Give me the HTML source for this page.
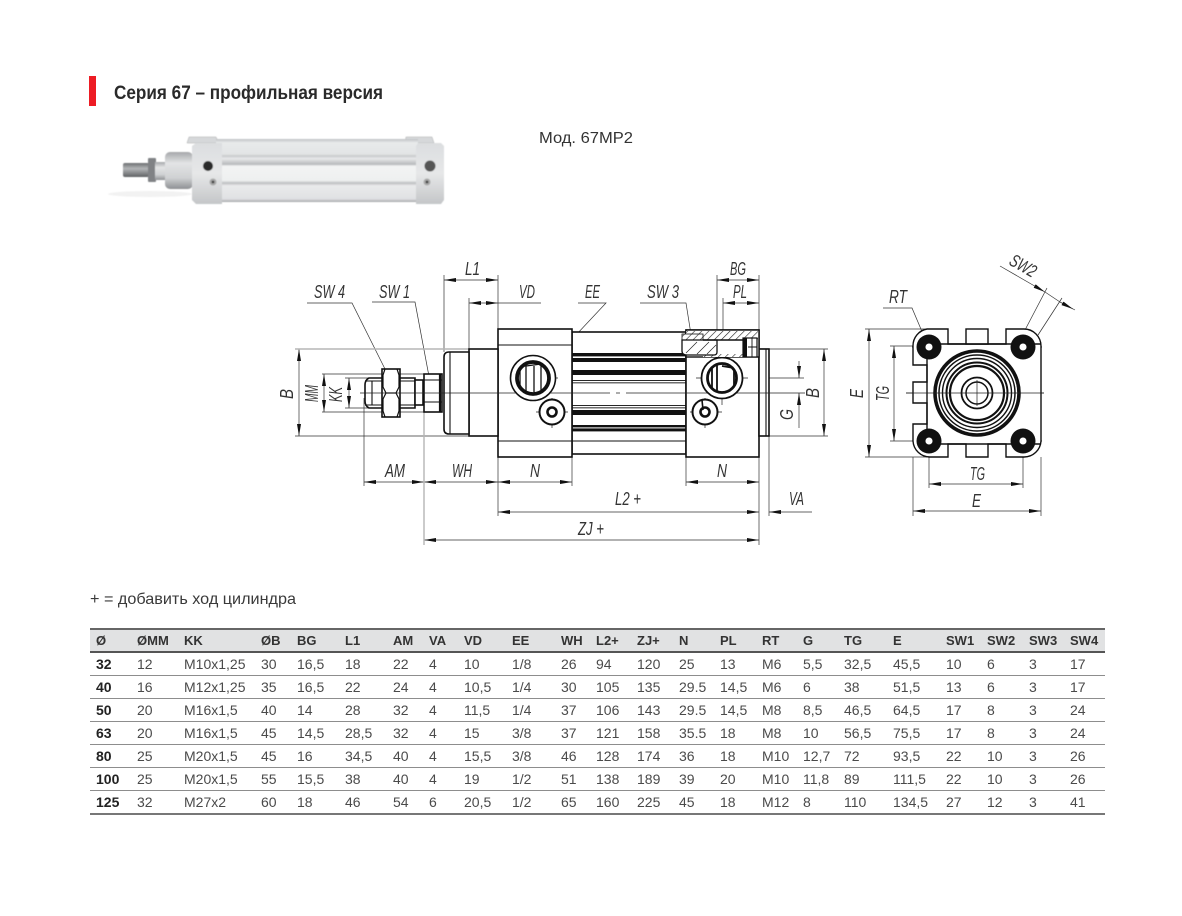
<!DOCTYPE html>
<html lang="ru">
<head>
<meta charset="utf-8">
<style>
html,body{margin:0;padding:0;background:#fff}
body{width:1182px;height:916px;position:relative;overflow:hidden;font-family:"Liberation Sans","Noto Sans CJK SC",sans-serif}
svg{position:absolute;left:0;top:0}
table{position:absolute;left:90px;top:628px;width:1015px;border-collapse:collapse;table-layout:fixed;font-size:14px;color:#4a4a4a;border-top:2px solid #666;border-bottom:2px solid #777}
th,td{padding:0 0 0 6px;text-align:left;white-space:nowrap;border-bottom:1px solid #8d8d8d;overflow:visible}
th{background:#e1e2e3;height:21px;border-bottom:2px solid #555;font-weight:bold;color:#333;font-size:13px}
td{height:22px;line-height:16px}
td:first-child{font-weight:bold;color:#222}
</style>
</head>
<body>
<svg width="1182" height="916" viewBox="0 0 1182 916">
<defs>
<marker id="a" markerUnits="userSpaceOnUse" markerWidth="14" markerHeight="6" refX="12" refY="3" orient="auto-start-reverse"><path d="M0,1 L12,3 L0,5 Z" fill="#111"/></marker>
<linearGradient id="body" x1="0" y1="0" x2="0" y2="1">
<stop offset="0" stop-color="#bfc2c4"/><stop offset=".06" stop-color="#e8eaeb"/><stop offset=".24" stop-color="#e2e4e5"/><stop offset=".27" stop-color="#c8cacc"/><stop offset=".31" stop-color="#e8e9ea"/><stop offset=".4" stop-color="#b8babc"/><stop offset=".43" stop-color="#f3f4f4"/><stop offset=".66" stop-color="#eef0f0"/><stop offset=".7" stop-color="#bcbec0"/><stop offset=".74" stop-color="#e9eaeb"/><stop offset=".95" stop-color="#e0e1e3"/><stop offset="1" stop-color="#a5a7aa"/>
</linearGradient>
<linearGradient id="blk" x1="0" y1="0" x2="0" y2="1"><stop offset="0" stop-color="#dcdee0"/><stop offset=".5" stop-color="#e6e7e8"/><stop offset="1" stop-color="#c4c6c8"/></linearGradient>
<linearGradient id="cyl" x1="0" y1="0" x2="0" y2="1"><stop offset="0" stop-color="#a5a7aa"/><stop offset=".3" stop-color="#e3e4e5"/><stop offset=".7" stop-color="#cfd1d3"/><stop offset="1" stop-color="#8e9093"/></linearGradient>
<linearGradient id="rod" x1="0" y1="0" x2="0" y2="1"><stop offset="0" stop-color="#6d6f71"/><stop offset=".4" stop-color="#b4b6b8"/><stop offset="1" stop-color="#5e6062"/></linearGradient>
<pattern id="h" patternUnits="userSpaceOnUse" width="5" height="5" patternTransform="rotate(-45)"><rect width="5" height="5" fill="#fff"/><line x1="0" y1="0" x2="5" y2="0" stroke="#222" stroke-width="1.2"/></pattern>
<clipPath id="clip1"><circle cx="533" cy="378" r="17"/></clipPath>
<clipPath id="clip2"><circle cx="722" cy="378" r="15.5"/></clipPath>
<filter id="soft" x="-5%" y="-5%" width="110%" height="110%"><feGaussianBlur stdDeviation=".55"/></filter>
</defs>

<!-- header -->
<rect x="89" y="76" width="7" height="30" fill="#ed1c24"/>
<text x="114" y="99" font-size="19" font-weight="bold" fill="#2a2a2a" textLength="269" lengthAdjust="spacingAndGlyphs">Серия 67 – профильная версия</text>
<text x="539" y="143" font-size="16" fill="#333" textLength="94" lengthAdjust="spacingAndGlyphs">Мод. 67MP2</text>
<text x="90" y="604" font-size="16" fill="#3a3a3a" textLength="206" lengthAdjust="spacingAndGlyphs">+ = добавить ход цилиндра</text>

<!-- photo -->
<g filter="url(#soft)">
<ellipse cx="150" cy="194" rx="42" ry="3" fill="#f2f2f2"/>
<path d="M187,143 L189,137 L216,137 L219,143 Z" fill="#d6d8da" stroke="#aaa" stroke-width=".5"/>
<path d="M405,143 L406,137 L432,137 L434,143 Z" fill="#d6d8da" stroke="#aaa" stroke-width=".5"/>
<rect x="216" y="139" width="202" height="63" fill="url(#body)"/>
<rect x="123" y="163" width="26" height="14" rx="2" fill="url(#rod)"/>
<rect x="148" y="158" width="8" height="24" rx="1" fill="#808285"/>
<rect x="155" y="162" width="12" height="18" fill="url(#cyl)"/>
<rect x="165" y="152" width="28" height="37" rx="5" fill="url(#cyl)"/>
<path d="M192,146 L196,143 L222,143 L222,204 L196,204 L192,200 Z" fill="url(#blk)"/>
<path d="M416,146 L418,143 L441,143 L444,146 L444,200 L441,204 L416,204 Z" fill="url(#blk)"/>
<circle cx="208" cy="166" r="5" fill="#2a2a2a"/>
<circle cx="430" cy="166" r="5.5" fill="#555"/>
<circle cx="213" cy="182" r="3.5" fill="#a8a8a8"/><circle cx="213" cy="182" r="1.4" fill="#444"/>
<circle cx="427" cy="182" r="3.5" fill="#a8a8a8"/><circle cx="427" cy="182" r="1.4" fill="#444"/>
</g>

<!-- thin lines: extension, leaders, dimensions -->
<g fill="none" stroke="#333" stroke-width=".7">
<path d="M295,436H498M322,374H424M322,412H424M345,378H380M345,408H380"/>
<path d="M364,398V486M498,457V516M572,457V486M686,457V486M759,457V545M769,436V516"/>
<path d="M444,275V352M469,298V349M498,275V329M717,275V358M723,298V405M759,275V330"/>
<path d="M769,349H828M769,436H828M696,378H804"/>
<path d="M307,303H352L385,369M372,302H415L431,387M578,303H606L546,367M640,303H686L703,410"/>
<path d="M883,308H912L926,341"/>
<path d="M865,329H928M865,457H928M890,346H929M890,441H929"/>
<path d="M913,457V516M1041,457V516M929,441V488M1023,441V488"/>
<path d="M1047,288L1025,330M1062,298L1038,335"/>
<g marker-start="url(#a)" marker-end="url(#a)">
<line x1="444" y1="280" x2="498" y2="280"/>
<line x1="469" y1="303" x2="498" y2="303"/>
<line x1="717" y1="280" x2="759" y2="280"/>
<line x1="723" y1="303" x2="759" y2="303"/>
<line x1="299" y1="349" x2="299" y2="436"/>
<line x1="324" y1="374" x2="324" y2="412"/>
<line x1="349" y1="378" x2="349" y2="408"/>
<line x1="364" y1="482" x2="424" y2="482"/>
<line x1="424" y1="482" x2="498" y2="482"/>
<line x1="498" y1="482" x2="572" y2="482"/>
<line x1="686" y1="482" x2="759" y2="482"/>
<line x1="498" y1="512" x2="759" y2="512"/>
<line x1="424" y1="540" x2="759" y2="540"/>
<line x1="824" y1="349" x2="824" y2="436"/>
<line x1="869" y1="329" x2="869" y2="457"/>
<line x1="894" y1="346" x2="894" y2="441"/>
<line x1="929" y1="484" x2="1023" y2="484"/>
<line x1="913" y1="511" x2="1041" y2="511"/>
</g>
<line x1="498" y1="303" x2="541" y2="303"/>
<line x1="812" y1="512" x2="769" y2="512" marker-end="url(#a)"/>
<line x1="799" y1="361" x2="799" y2="378" marker-end="url(#a)"/>
<line x1="799" y1="428" x2="799" y2="393" marker-end="url(#a)"/>
<line x1="1000" y1="266" x2="1045" y2="292" marker-end="url(#a)"/>
<line x1="1075" y1="310" x2="1060" y2="302"/>
<line x1="1073" y1="309" x2="1060" y2="302" marker-start="url(#a)"/>
<line x1="1045" y1="292" x2="1060" y2="302"/>
</g>
<g stroke="#b5b5b5" stroke-width="1.4" fill="none"><path d="M295,349H469M424,412V545M759,349H769"/></g>

<!-- cylinder side view -->
<g fill="#fff" stroke="#111" stroke-width="1.6">
<rect x="572" y="332" width="114" height="122"/>
<rect x="498" y="329" width="74" height="128"/>
<rect x="686" y="330" width="73" height="127"/>
<rect x="759" y="349" width="10" height="87"/>
<rect x="469" y="349" width="29" height="87"/>
<path d="M469,352H449Q444,352 444,357V429Q444,434 449,434H469Z"/>
<path d="M369,378H415V408H369Q365,406 365,401V385Q365,380 369,378Z"/>
<rect x="415" y="380" width="8" height="25"/>
<rect x="424" y="374" width="18" height="38"/>
<rect x="382" y="369" width="18" height="48"/>
</g>
<g stroke="#111" fill="none" stroke-width="1.1">
<path d="M498,345H572M498,441H572M686,345H759M572,441H686"/>
<path d="M372,381V405M365,381H382M365,405H382M400,381H415M400,405H415"/>
<path d="M424,402H442M424,380H442M450,352V434M766,349V436"/>
<path d="M385,369L383,375V387L386,393H396L399,387V375L397,369M385,417L383,411V399L386,393M396,393L399,399V411L397,417" stroke-width="1.2"/>
<path d="M440,374V412" stroke-width="2.2"/>
</g>
<g fill="#111">
<rect x="572" y="353" width="114" height="3.4"/><rect x="572" y="358" width="114" height="4"/>
<rect x="572" y="370" width="114" height="5"/>
<rect x="572" y="380" width="114" height=".9"/><rect x="572" y="382.4" width="114" height=".9"/>
<rect x="572" y="405" width="114" height=".9"/><rect x="572" y="407.4" width="114" height=".9"/>
<rect x="572" y="410" width="114" height="5"/>
<rect x="572" y="425" width="114" height="2.4"/><rect x="572" y="428.4" width="114" height="3"/>
</g>
<!-- centre line -->
<g stroke="#222" stroke-width=".7" fill="none">
<path d="M360,393H610M616,393H620M626,393H805"/>
<path d="M510,378H558M533,355V401M536,412H568M552,398V428M696,378H748M722,355V405M690,412H722M705,398V428"/>
<path d="M906,393H1044M977,329V457M912,347H946M1006,347H1042M912,441H946M1006,441H1042M929,330V364M1023,330V364M929,424V458M1023,424V458"/>
</g>
<!-- ports -->
<g fill="#fff" stroke="#111">
<circle cx="533" cy="378" r="22.5" stroke-width="1.6"/>
<circle cx="533" cy="378" r="16" stroke-width="3.8"/>
<circle cx="722" cy="378" r="20.5" stroke-width="1.8"/>
<circle cx="722" cy="378" r="14.5" stroke-width="2.8"/>
<circle cx="552" cy="412" r="12.5" stroke-width="2"/>
<circle cx="552" cy="412" r="4.5" stroke-width="2.6"/>
<circle cx="705" cy="412" r="12.5" stroke-width="2"/>
<circle cx="705" cy="412" r="4.5" stroke-width="2.6"/>
</g>
<g stroke="#111" fill="none" stroke-width="1.3">
<path clip-path="url(#clip1)" d="M526,366L541,364V390M526,366H520V388M526,366V392M534,366V392" />
<path clip-path="url(#clip2)" d="M717,365V392M712,366V390M722,366L734,368V385" stroke-width="1.8"/>
<path d="M702,400L703,410" stroke-width="1.6"/>
</g>
<!-- section -->
<rect x="686" y="330" width="73" height="27" fill="#fff" stroke="#111" stroke-width="1.4"/>
<rect x="686" y="331" width="72" height="9" fill="url(#h)"/>
<rect x="703" y="354" width="54" height="3" fill="url(#h)"/>
<rect x="682" y="334" width="21" height="6" fill="url(#h)" stroke="#111" stroke-width=".8"/>
<path d="M682,340H717V352Q717,355 714,355H687Q682,355 682,351Z" fill="#fff" stroke="#111" stroke-width="1.3"/>
<path d="M686,353L697,342M697,354L709,342M707,354L716,345" stroke="#222" stroke-width=".7" fill="none"/>
<path d="M703,340H757" stroke="#111" stroke-width="1.6"/>
<rect x="743" y="338" width="14" height="19" fill="#fff" stroke="#111" stroke-width="1.2"/>
<rect x="743" y="338" width="4" height="19" fill="#111"/>
<path d="M748,347H757M752,338V357" stroke="#111" stroke-width=".9"/>

<!-- front view -->
<g fill="#fff" stroke="#111" stroke-width="1.4">
<path d="M927,329H948V344H1006V329H1024A17,17 0 0 1 1041,346V441A17,17 0 0 1 1024,457H1006V444H988V457H966V444H948V457H930A17,17 0 0 1 913,441V424H927V403H913V382H927V365H913V346A17,17 0 0 1 927,329Z"/>
<rect x="966" y="329" width="22" height="15"/>
<path d="M927,344V444M927,344H1041M927,444H1041" fill="none"/>
</g>
<g fill="#111">
<circle cx="929" cy="347" r="12.5"/><circle cx="1023" cy="347" r="12.5"/><circle cx="929" cy="441" r="12.5"/><circle cx="1023" cy="441" r="12.5"/>
</g>
<g fill="#fff" stroke="#111" stroke-width=".9">
<circle cx="929" cy="347" r="4"/><circle cx="1023" cy="347" r="4"/><circle cx="929" cy="441" r="4"/><circle cx="1023" cy="441" r="4"/>
</g>
<g fill="none" stroke="#111">
<circle cx="977" cy="393" r="42" stroke-width="3.6" fill="#fff"/>
<circle cx="977" cy="393" r="38" stroke-width="1.5"/>
<circle cx="977" cy="393" r="34.5" stroke-width="1.4"/>
<circle cx="977" cy="393" r="30.5" stroke-width="2"/>
<circle cx="977" cy="393" r="27" stroke-width="2.2"/>
<circle cx="977" cy="393" r="15.5" stroke-width="1.8"/>
<circle cx="977" cy="393" r="11" stroke-width="1.5"/>
</g>
<path d="M906,393H1044M977,380V406" stroke="#222" stroke-width=".7"/>

<!-- labels -->
<g font-family="'Liberation Sans',sans-serif" font-style="italic" font-size="18" fill="#333" stroke="none">
<text x="465" y="275" textLength="15" lengthAdjust="spacingAndGlyphs">L1</text>
<text x="519" y="298" textLength="16" lengthAdjust="spacingAndGlyphs">VD</text>
<text x="314" y="298" textLength="31" lengthAdjust="spacingAndGlyphs">SW 4</text>
<text x="379" y="298" textLength="31" lengthAdjust="spacingAndGlyphs">SW 1</text>
<text x="585" y="298" textLength="15" lengthAdjust="spacingAndGlyphs">EE</text>
<text x="647" y="298" textLength="32" lengthAdjust="spacingAndGlyphs">SW 3</text>
<text x="730" y="275" textLength="16" lengthAdjust="spacingAndGlyphs">BG</text>
<text x="733" y="298" textLength="14" lengthAdjust="spacingAndGlyphs">PL</text>
<text x="385" y="477" textLength="20" lengthAdjust="spacingAndGlyphs">AM</text>
<text x="452" y="477" textLength="20" lengthAdjust="spacingAndGlyphs">WH</text>
<text x="530" y="477" textLength="10" lengthAdjust="spacingAndGlyphs">N</text>
<text x="717" y="477" textLength="10" lengthAdjust="spacingAndGlyphs">N</text>
<text x="615" y="505" textLength="26" lengthAdjust="spacingAndGlyphs">L2 +</text>
<text x="578" y="535" textLength="26" lengthAdjust="spacingAndGlyphs">ZJ +</text>
<text x="789" y="505" textLength="15" lengthAdjust="spacingAndGlyphs">VA</text>
<text x="889" y="303" textLength="18" lengthAdjust="spacingAndGlyphs">RT</text>
<text x="970" y="480" textLength="15" lengthAdjust="spacingAndGlyphs">TG</text>
<text x="972" y="507" textLength="9" lengthAdjust="spacingAndGlyphs">E</text>
<text transform="translate(293,399) rotate(-90)" textLength="10" lengthAdjust="spacingAndGlyphs">B</text>
<text transform="translate(318,402) rotate(-90)" textLength="17" lengthAdjust="spacingAndGlyphs">MM</text>
<text transform="translate(342,402) rotate(-90)" textLength="15" lengthAdjust="spacingAndGlyphs">KK</text>
<text transform="translate(793,420) rotate(-90)" textLength="11" lengthAdjust="spacingAndGlyphs">G</text>
<text transform="translate(819,398) rotate(-90)" textLength="10" lengthAdjust="spacingAndGlyphs">B</text>
<text transform="translate(863,398) rotate(-90)" textLength="9" lengthAdjust="spacingAndGlyphs">E</text>
<text transform="translate(889,401) rotate(-90)" textLength="15" lengthAdjust="spacingAndGlyphs">TG</text>
<text transform="translate(1008,264) rotate(30)" textLength="28" lengthAdjust="spacingAndGlyphs">SW2</text>
</g>
</svg>

<table>
<colgroup>
<col style="width:41px"><col style="width:47px"><col style="width:77px"><col style="width:36px"><col style="width:48px"><col style="width:48px"><col style="width:36px"><col style="width:35px"><col style="width:48px"><col style="width:49px"><col style="width:35px"><col style="width:41px"><col style="width:42px"><col style="width:41px"><col style="width:42px"><col style="width:41px"><col style="width:41px"><col style="width:49px"><col style="width:53px"><col style="width:41px"><col style="width:42px"><col style="width:41px"><col style="width:41px">
</colgroup>
<tr><th>Ø</th><th>ØMM</th><th>KK</th><th>ØB</th><th>BG</th><th>L1</th><th>AM</th><th>VA</th><th>VD</th><th>EE</th><th>WH</th><th>L2+</th><th>ZJ+</th><th>N</th><th>PL</th><th>RT</th><th>G</th><th>TG</th><th>E</th><th>SW1</th><th>SW2</th><th>SW3</th><th>SW4</th></tr>
<tr><td>32</td><td>12</td><td>M10x1,25</td><td>30</td><td>16,5</td><td>18</td><td>22</td><td>4</td><td>10</td><td>1/8</td><td>26</td><td>94</td><td>120</td><td>25</td><td>13</td><td>M6</td><td>5,5</td><td>32,5</td><td>45,5</td><td>10</td><td>6</td><td>3</td><td>17</td></tr>
<tr><td>40</td><td>16</td><td>M12x1,25</td><td>35</td><td>16,5</td><td>22</td><td>24</td><td>4</td><td>10,5</td><td>1/4</td><td>30</td><td>105</td><td>135</td><td>29.5</td><td>14,5</td><td>M6</td><td>6</td><td>38</td><td>51,5</td><td>13</td><td>6</td><td>3</td><td>17</td></tr>
<tr><td>50</td><td>20</td><td>M16x1,5</td><td>40</td><td>14</td><td>28</td><td>32</td><td>4</td><td>11,5</td><td>1/4</td><td>37</td><td>106</td><td>143</td><td>29.5</td><td>14,5</td><td>M8</td><td>8,5</td><td>46,5</td><td>64,5</td><td>17</td><td>8</td><td>3</td><td>24</td></tr>
<tr><td>63</td><td>20</td><td>M16x1,5</td><td>45</td><td>14,5</td><td>28,5</td><td>32</td><td>4</td><td>15</td><td>3/8</td><td>37</td><td>121</td><td>158</td><td>35.5</td><td>18</td><td>M8</td><td>10</td><td>56,5</td><td>75,5</td><td>17</td><td>8</td><td>3</td><td>24</td></tr>
<tr><td>80</td><td>25</td><td>M20x1,5</td><td>45</td><td>16</td><td>34,5</td><td>40</td><td>4</td><td>15,5</td><td>3/8</td><td>46</td><td>128</td><td>174</td><td>36</td><td>18</td><td>M10</td><td>12,7</td><td>72</td><td>93,5</td><td>22</td><td>10</td><td>3</td><td>26</td></tr>
<tr><td>100</td><td>25</td><td>M20x1,5</td><td>55</td><td>15,5</td><td>38</td><td>40</td><td>4</td><td>19</td><td>1/2</td><td>51</td><td>138</td><td>189</td><td>39</td><td>20</td><td>M10</td><td>11,8</td><td>89</td><td>111,5</td><td>22</td><td>10</td><td>3</td><td>26</td></tr>
<tr><td>125</td><td>32</td><td>M27x2</td><td>60</td><td>18</td><td>46</td><td>54</td><td>6</td><td>20,5</td><td>1/2</td><td>65</td><td>160</td><td>225</td><td>45</td><td>18</td><td>M12</td><td>8</td><td>110</td><td>134,5</td><td>27</td><td>12</td><td>3</td><td>41</td></tr>
</table>
</body>
</html>
